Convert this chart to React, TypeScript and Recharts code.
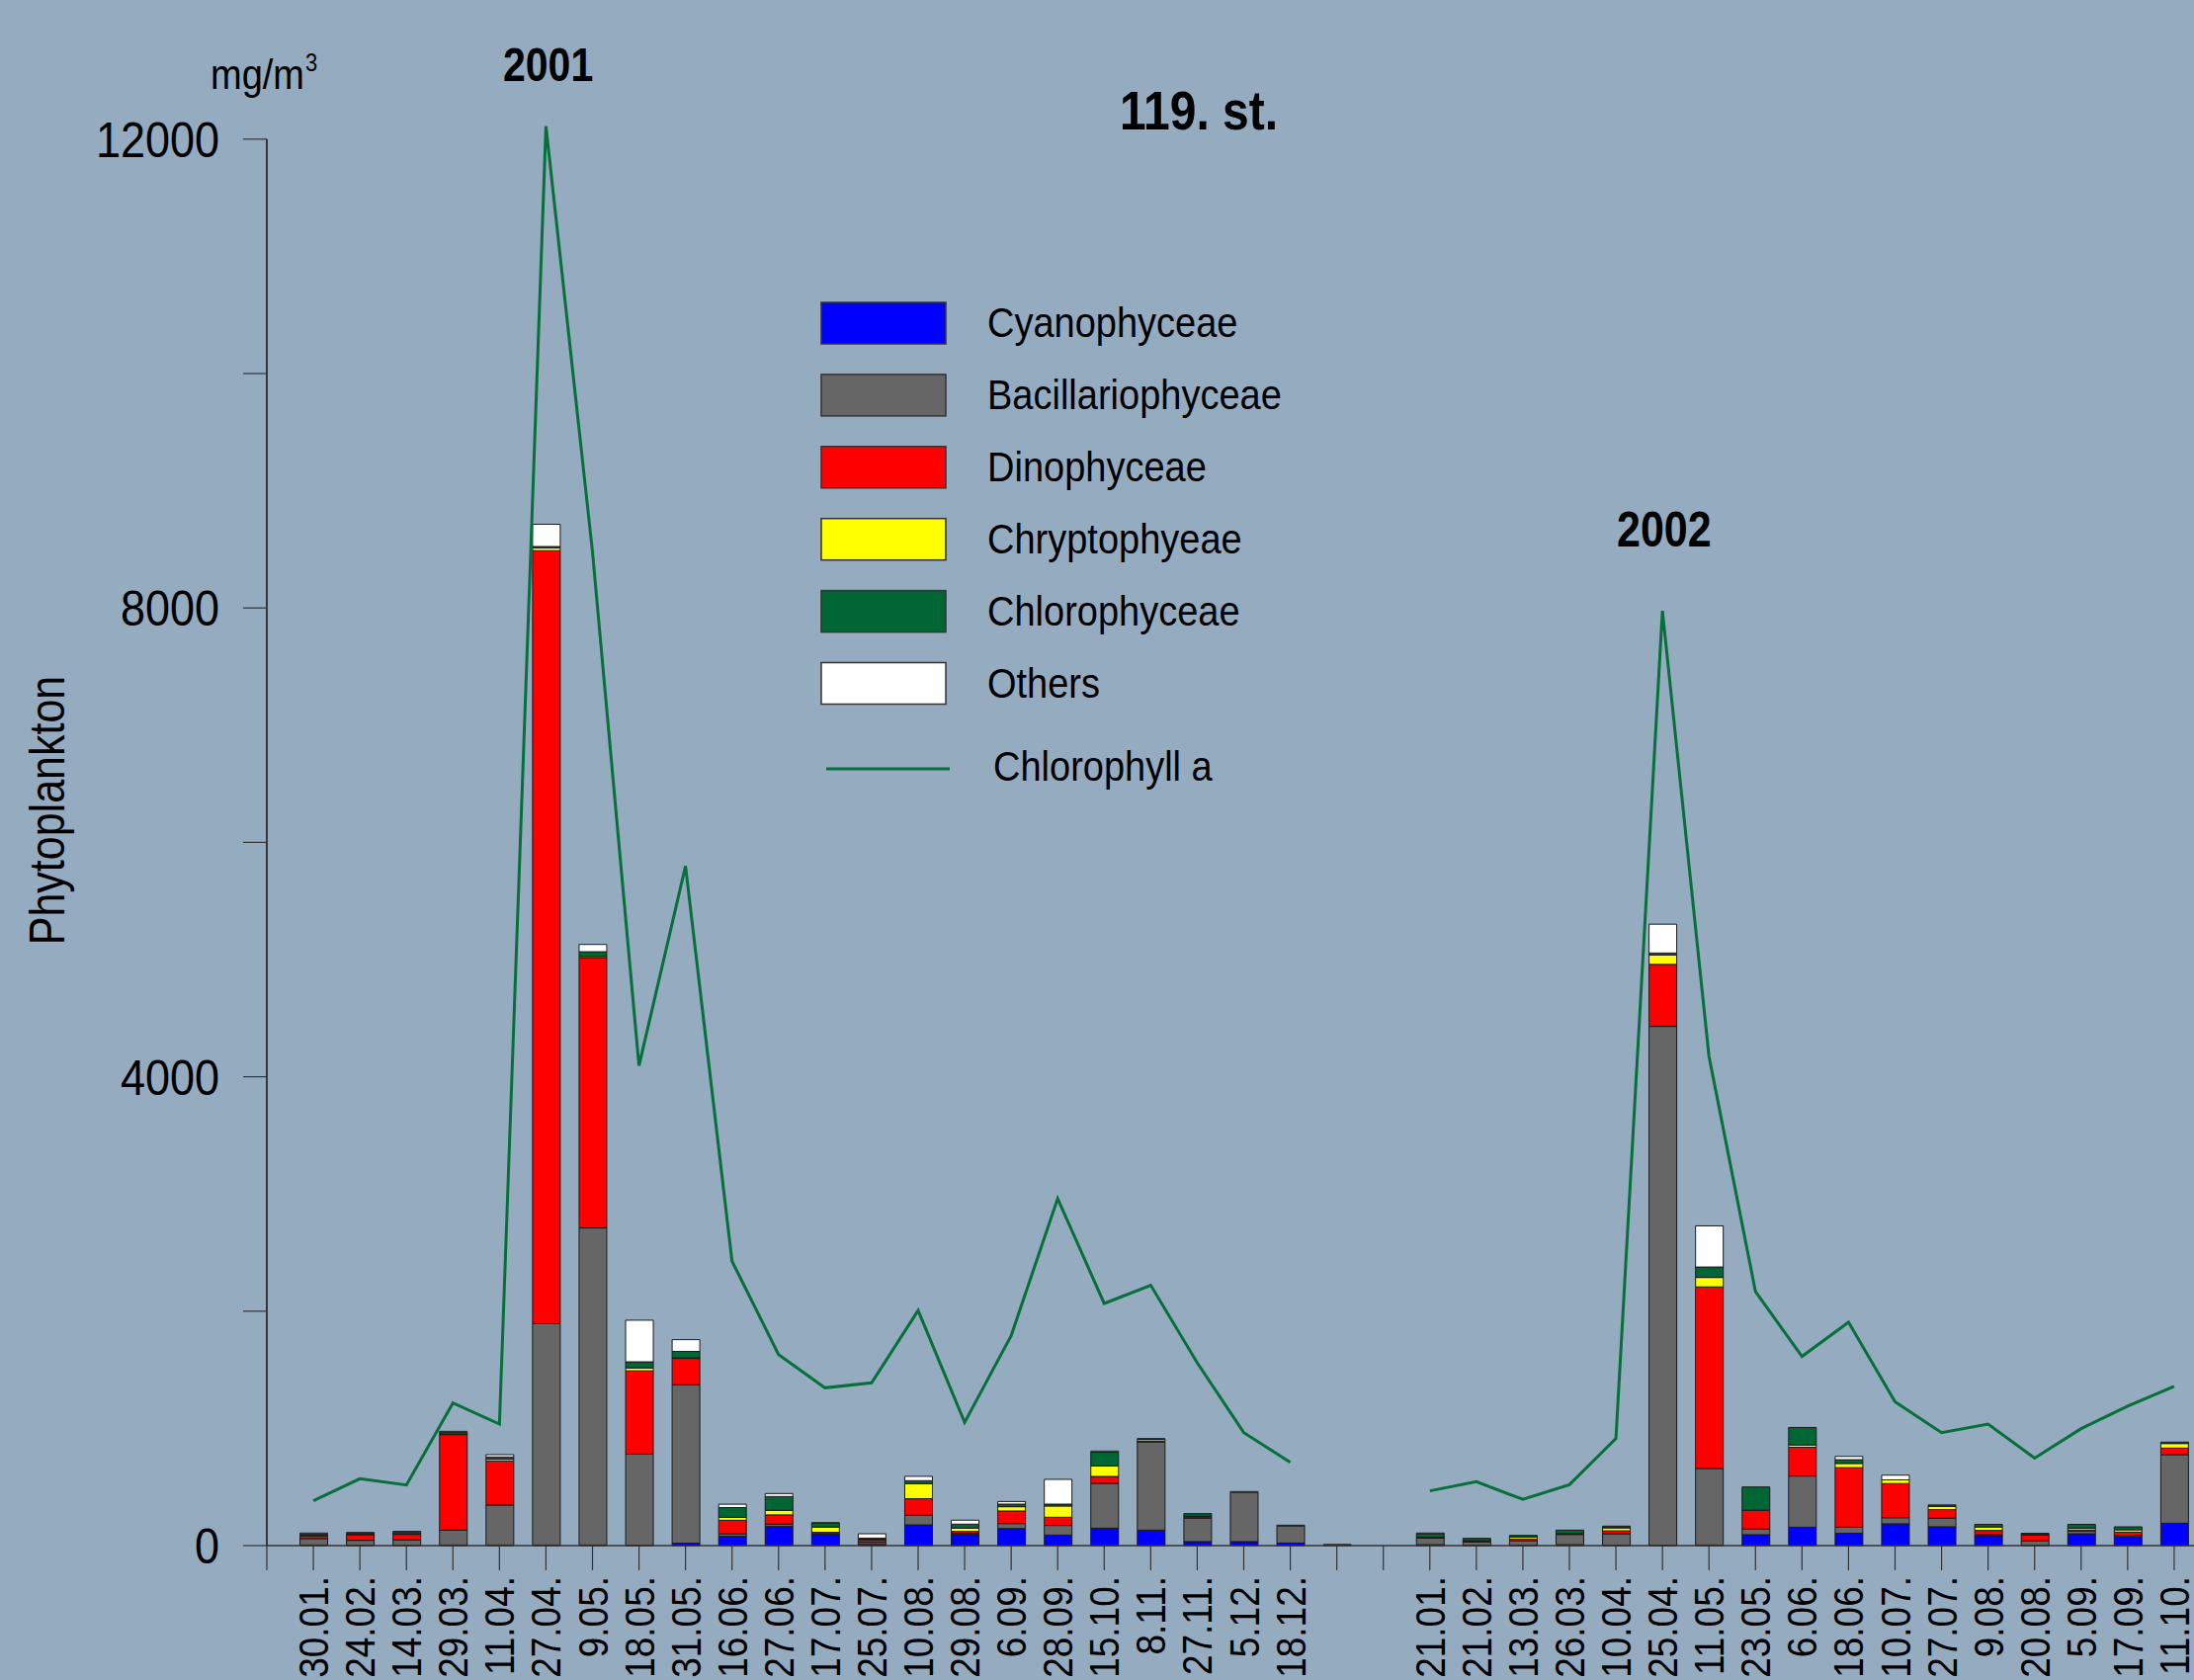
import { Bar, ComposedChart, Legend, Line, ReferenceLine, XAxis, YAxis } from "recharts";

const FONT = "'Liberation Sans', Arial, Helvetica, sans-serif";
const BG = "#95abc0";

const dates2001 = [
  "30.01.", "24.02.", "14.03.", "29.03.", "11.04.", "27.04.", "9.05.", "18.05.", "31.05.", "16.06.", "27.06.",
  "17.07.", "25.07.", "10.08.", "29.08.", "6.09.", "28.09.", "15.10.", "8.11.", "27.11.", "5.12.", "18.12.",
];
const dates2002 = [
  "21.01.", "21.02.", "13.03.", "26.03.", "10.04.", "25.04.", "11.05.", "23.05.", "6.06.", "18.06.", "10.07.",
  "27.07.", "9.08.", "20.08.", "5.09.", "17.09.", "11.10.",
];
// two empty slots separate the years
const dates = [...dates2001, "", "", ...dates2002];

// mg/m3, stacked from the bottom
const cyanophyceae = [
  5, 3, 3, 5, 5, 5, 5, 3, 20, 79, 163, 96, 10, 177, 96, 146, 90, 149, 132, 34, 34, 22,
  0, null,
  8, 3, 3, 8, 3, 3, 5, 93, 157, 105, 186, 161, 85, 3, 101, 73, 191,
];
const bacillariophyceae = [
  55, 42, 45, 127, 341, 1888, 2705, 778, 1352, 22, 20, 5, 18, 82, 10, 42, 82, 382, 753, 200, 420, 146,
  10, null,
  56, 28, 39, 87, 98, 4427, 653, 48, 436, 52, 52, 73, 8, 37, 24, 12, 585,
];
const dinophyceae = [
  22, 48, 48, 815, 377, 6596, 2307, 710, 225, 115, 79, 12, 22, 141, 15, 107, 70, 59, 5, 12, 0, 0,
  0, null,
  5, 8, 14, 5, 25, 529, 1549, 161, 246, 508, 291, 73, 36, 50, 8, 30, 56,
];
const chryptophyeae = [
  5, 4, 5, 5, 15, 25, 10, 25, 5, 25, 39, 45, 4, 129, 28, 37, 96, 90, 15, 5, 0, 0,
  0, null,
  3, 3, 18, 2, 25, 80, 81, 0, 20, 36, 32, 28, 30, 5, 16, 20, 39,
];
const chlorophyceae = [
  12, 10, 15, 15, 18, 10, 40, 52, 55, 84, 118, 34, 10, 25, 34, 22, 16, 117, 8, 22, 0, 0,
  0, null,
  28, 20, 13, 30, 10, 17, 89, 198, 149, 32, 0, 12, 22, 10, 32, 25, 12,
];
const others = [
  8, 5, 5, 8, 20, 190, 62, 355, 100, 28, 25, 3, 37, 37, 34, 22, 211, 10, 0, 0, 7, 6,
  0, null,
  7, 0, 0, 0, 5, 246, 351, 0, 0, 28, 40, 0, 0, 0, 0, 0, 0,
];
const chlorophyllA = [
  382, 571, 517, 1217, 1037, 12110, 8480, 4094, 5798, 2426, 1630, 1346, 1389, 2006, 1051, 1791, 2961, 2066, 2221,
  1560, 964, 711,
  null, null,
  467, 545, 394, 520, 914, 7976, 4176, 2167, 1614, 1905, 1227, 964, 1037, 746, 998, 1189, 1358,
];

const groups = [
  { key: "cyan", name: "Cyanophyceae", color: "#0000ff", values: cyanophyceae },
  { key: "bacil", name: "Bacillariophyceae", color: "#666666", values: bacillariophyceae },
  { key: "dino", name: "Dinophyceae", color: "#ff0000", values: dinophyceae },
  { key: "crypto", name: "Chryptophyeae", color: "#ffff00", values: chryptophyeae },
  { key: "chloro", name: "Chlorophyceae", color: "#006633", values: chlorophyceae },
  { key: "others", name: "Others", color: "#ffffff", values: others },
];
const LINE_COLOR = "#07703a";

const yTicks = [0, 2000, 4000, 6000, 8000, 10000, 12000];
const xTicks = [0, ...dates.map((_, i) => i + 1)];

const data = dates.map((label, i) => {
  const row: Record<string, number | string | null> = { x: i + 1, label, chl: chlorophyllA[i] };
  groups.forEach((g) => {
    row[g.key] = g.values[i];
  });
  return row;
});

function YTick({ x, y, payload }: any) {
  if (payload.value % 4000 !== 0) return null;
  return (
    <text transform={`translate(${x},${y + 18}) scale(1,1.13)`} textAnchor="end" fontSize={45} fontFamily={FONT} fill="#000">
      {payload.value}
    </text>
  );
}

function XTick({ x, y, payload }: any) {
  const label = dates[payload.value - 1];
  if (!label) return null;
  return (
    <text
      transform={`translate(${x + 15},${y}) rotate(-90) scale(1,1.15)`}
      textAnchor="end"
      fontSize={37}
      fontFamily={FONT}
      fill="#000"
    >
      {label}
    </text>
  );
}

function LegendBox() {
  return (
    <svg width={600} height={520} style={{ display: "block" }}>
      {groups.map((g, i) => (
        <g key={g.key}>
          <rect x={11} y={16 + i * 72.9} width={126} height={42} fill={g.color} stroke="#333" strokeWidth={1.5} />
          <text
            transform={`translate(179,${51 + i * 72.9}) scale(1,1.1)`}
            fontSize={38}
            fontFamily={FONT}
            fill="#000"
          >
            {g.name}
          </text>
        </g>
      ))}
      <line x1={16} x2={141} y1={488} y2={488} stroke={LINE_COLOR} strokeWidth={3} />
      <text transform="translate(185,500) scale(1,1.1)" fontSize={38} fontFamily={FONT} fill="#000">
        Chlorophyll a
      </text>
    </svg>
  );
}

export default function App() {
  return (
    <div style={{ position: "absolute", left: 0, top: 0, width: 2220, height: 1700, overflow: "hidden", background: BG }}>
      <ComposedChart width={2250} height={1700} data={data} margin={{ top: 123, right: 3, bottom: 0, left: 0 }} barSize={28}>
        <XAxis
          type="number"
          dataKey="x"
          domain={[0, 42]}
          ticks={xTicks}
          interval={0}
          tickSize={25}
          tickMargin={6}
          height={136}
          tick={<XTick />}
          axisLine={{ stroke: "#333", strokeWidth: 1.5 }}
          tickLine={{ stroke: "#333", strokeWidth: 1.2 }}
        />
        <YAxis
          type="number"
          domain={[0, 12150]}
          ticks={yTicks}
          interval={0}
          width={270}
          tickSize={24}
          tickMargin={24}
          tick={<YTick />}
          axisLine={false}
          tickLine={{ stroke: "#333", strokeWidth: 1.2 }}
        />
        <ReferenceLine segment={[{ x: 0, y: 0 }, { x: 0, y: 12000 }]} stroke="#111" strokeWidth={1.5} />
        {groups.map((g) => (
          <Bar
            key={g.key}
            dataKey={g.key}
            name={g.name}
            stackId="a"
            fill={g.color}
            stroke="#1a1a1a"
            strokeWidth={1}
            isAnimationActive={false}
          />
        ))}
        <Line
          type="linear"
          dataKey="chl"
          name="Chlorophyll a"
          stroke={LINE_COLOR}
          strokeWidth={3}
          dot={false}
          activeDot={false}
          isAnimationActive={false}
        />
        <Legend
          layout="vertical"
          align="center"
          verticalAlign="middle"
          content={<LegendBox />}
          wrapperStyle={{ position: "absolute", left: 820, top: 290, width: 600, height: 520 }}
        />
      </ComposedChart>
      <svg width={2220} height={1700} style={{ position: "absolute", left: 0, top: 0, pointerEvents: "none" }}>
        <text transform="translate(213,90) scale(1,1.13)" fontSize={38} fontFamily={FONT} fill="#000">
          mg/m
        </text>
        <text transform="translate(309,72) scale(1,1.13)" fontSize={22} fontFamily={FONT} fill="#000">
          3
        </text>
        <text transform="translate(509,82) scale(1,1.18)" fontSize={41} fontWeight="bold" fontFamily={FONT} fill="#000">
          2001
        </text>
        <text transform="translate(1133,131) scale(1,1.17)" fontSize={48} fontWeight="bold" fontFamily={FONT} fill="#000">
          119. st.
        </text>
        <text transform="translate(1636,553) scale(1,1.15)" fontSize={43} fontWeight="bold" fontFamily={FONT} fill="#000">
          2002
        </text>
        <text
          transform="translate(65,820) rotate(-90) scale(1,1.15)"
          textAnchor="middle"
          fontSize={43}
          fontFamily={FONT}
          fill="#000"
        >
          Phytoplankton
        </text>
      </svg>
    </div>
  );
}
